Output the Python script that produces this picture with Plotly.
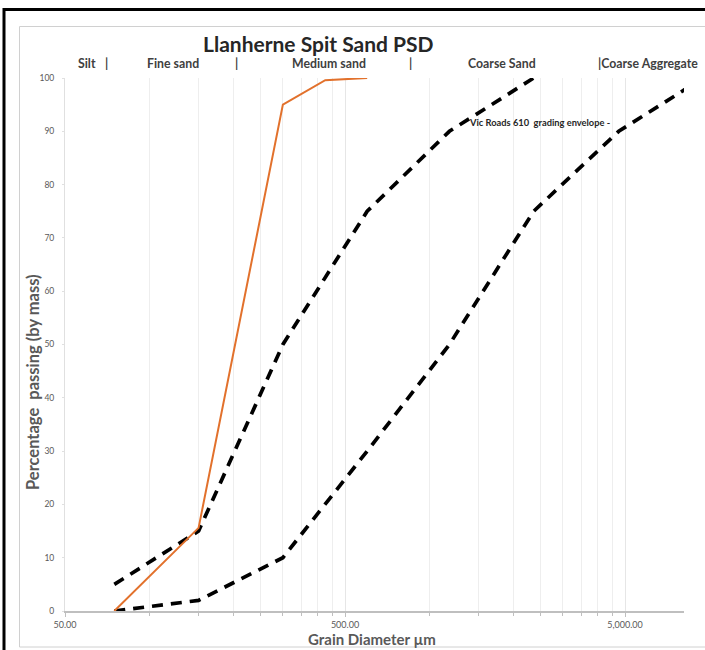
import plotly.graph_objects as go

# ---- data ----
sample_size_um = [75, 150, 300, 425, 600]
sample_passing = [0, 15.6, 95, 99.6, 100]

upper_size_um = [75, 150, 300, 600, 1180, 2360]
upper_passing = [5, 15, 50, 75, 90, 100]

lower_size_um = [75, 150, 300, 600, 1180, 2360, 4750, 9500]
lower_passing = [0, 2, 10, 30, 50, 75, 90, 100]

x_major_ticks = [50, 500, 5000]
x_major_labels = ["50.00", "500.00", "5,000.00"]
x_minor_ticks = [100, 150, 200, 250, 300, 350, 400, 450,
                 1000, 1500, 2000, 2500, 3000, 3500, 4000, 4500]
y_ticks = [0, 10, 20, 30, 40, 50, 60, 70, 80, 90, 100]

size_classes = ["Silt", "|", "Fine sand", "|", "Medium sand", "|", "Coarse Sand", "|Coarse Aggregate"]
size_class_px = [87, 106, 173, 236, 329, 410, 502, 648]

# ---- layout geometry (pixels) ----
W, H = 705, 650
L, R, T, B = 65, 684, 78, 611
PW, PH = R - L, B - T


def px(xp):
    return (xp - L) / PW


def py(yp):
    return (B - yp) / PH


FONT = "Lato"
GREY = "#595959"

fig = go.Figure()
fig.add_trace(go.Scatter(x=upper_size_um, y=upper_passing, mode="lines",
                         line=dict(color="black", width=3.7, dash="11px,8px"),
                         showlegend=False, hoverinfo="skip"))
fig.add_trace(go.Scatter(x=lower_size_um, y=lower_passing, mode="lines",
                         line=dict(color="black", width=3.7, dash="11px,8px"),
                         showlegend=False, hoverinfo="skip"))
fig.add_trace(go.Scatter(x=sample_size_um, y=sample_passing, mode="lines",
                         line=dict(color="#E2712C", width=2),
                         showlegend=False))

annotations = []
annotations.append(dict(text="<b>Llanherne Spit Sand PSD</b>", x=px(318), y=py(44),
                        xref="paper", yref="paper", showarrow=False,
                        font=dict(family=FONT, size=21, color="#262626"),
                        xanchor="center", yanchor="middle"))
for lab, xp in zip(size_classes, size_class_px):
    annotations.append(dict(text="<b>" + lab + "</b>", x=px(xp), y=py(64),
                            xref="paper", yref="paper", showarrow=False,
                            font=dict(family=FONT, size=12.3, color="#404040"),
                            xanchor="center", yanchor="middle"))
annotations.append(dict(text="<b>Vic Roads 610&nbsp;&nbsp;grading envelope -</b>", x=px(539), y=py(122),
                        xref="paper", yref="paper", showarrow=False,
                        font=dict(family=FONT, size=9.3, color="#262626"),
                        xanchor="center", yanchor="middle"))
annotations.append(dict(text="<b>Percentage&nbsp; passing (by mass)</b>", x=px(33), y=py(382),
                        xref="paper", yref="paper", showarrow=False, textangle=-90,
                        font=dict(family=FONT, size=16.5, color=GREY),
                        xanchor="center", yanchor="middle"))
annotations.append(dict(text="<b>Grain Diameter µm</b>", x=px(372), y=py(638.5),
                        xref="paper", yref="paper", showarrow=False,
                        font=dict(family=FONT, size=15, color=GREY),
                        xanchor="center", yanchor="middle"))

shapes = [
    # outer black frame
    dict(type="rect", xref="paper", yref="paper",
         x0=px(4), x1=px(W + 10), y0=py(H + 10), y1=py(9.5),
         line=dict(color="black", width=3), fillcolor="rgba(0,0,0,0)", layer="below"),
    # inner light frame
    dict(type="rect", xref="paper", yref="paper",
         x0=px(19.5), x1=px(W + 10), y0=py(647), y1=py(26.5),
         line=dict(color="#d0d0d0", width=1), fillcolor="rgba(0,0,0,0)", layer="below"),
]

fig.update_layout(
    width=W, height=H,
    margin=dict(l=L, r=W - R, t=T, b=H - B, pad=0),
    paper_bgcolor="white", plot_bgcolor="white",
    annotations=annotations, shapes=shapes,
    font=dict(family=FONT, color=GREY),
)

fig.update_xaxes(
    type="log", range=[1.69897, 3.9097],
    tickmode="array", tickvals=x_major_ticks, ticktext=x_major_labels,
    tickfont=dict(size=9, color=GREY),
    showgrid=True, gridcolor="#e6e6e6", gridwidth=1,
    showline=True, linecolor="#bfbfbf", linewidth=2,
    ticks="outside", ticklen=4, tickcolor="#bfbfbf",
    minor=dict(tickmode="array", tickvals=x_minor_ticks, showgrid=True,
               gridcolor="#eeeeee", gridwidth=1, ticks="outside", ticklen=3,
               tickcolor="#bfbfbf"),
    zeroline=False, fixedrange=True,
)
fig.update_yaxes(
    range=[0, 100], tickmode="array", tickvals=y_ticks,
    tickfont=dict(size=8.5, color=GREY),
    showgrid=False, showline=True, linecolor="#e0e0e0", linewidth=1,
    ticks="outside", ticklen=2, tickcolor="#e0e0e0",
    zeroline=False, fixedrange=True, ticklabelstandoff=6,
)

fig.write_html(
    "out.html",
    config={"displayModeBar": False},
    post_script="document.body.style.margin='0';document.body.style.padding='0';"
                "document.body.style.overflow='hidden';",
)
